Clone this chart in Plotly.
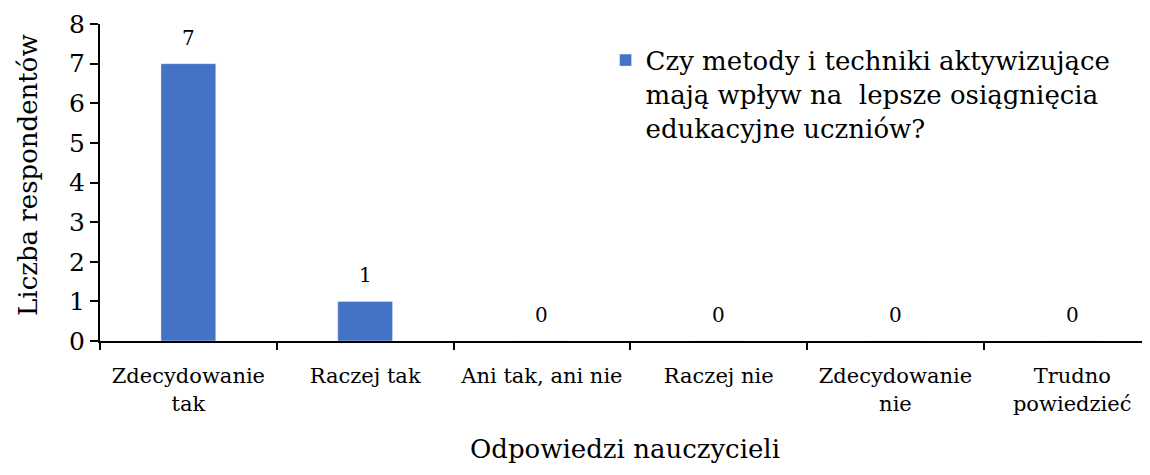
import plotly.graph_objects as go

categories = ["Zdecydowanie<br>tak", "Raczej tak", "Ani tak, ani nie", "Raczej nie",
              "Zdecydowanie<br>nie", "Trudno<br>powiedzieć"]
values = [7, 1, 0, 0, 0, 0]
series_name = "Czy metody i techniki aktywizujące<br>mają wpływ na  lepsze osiągnięcia<br>edukacyjne uczniów?"
y_ticks = [0, 1, 2, 3, 4, 5, 6, 7, 8]
x_title = "Odpowiedzi nauczycieli"
y_title = "Liczba respondentów"

FONT = "DejaVu Serif"
BLUE = "#4472C4"

fig = go.Figure()
fig.add_trace(go.Bar(x=categories, y=values, name=series_name,
                     marker=dict(color=BLUE), width=0.31))

for c, v in zip(categories, values):
    fig.add_annotation(x=c, y=v, text=str(v), showarrow=False, yanchor="bottom",
                       yshift=12, font=dict(family=FONT, size=20, color="black"))

fig.add_annotation(xref="paper", yref="paper", x=0, y=0.524, xshift=-72,
                   text=y_title, textangle=-90, showarrow=False,
                   xanchor="center", yanchor="middle",
                   font=dict(family=FONT, size=26, color="black"))

fig.update_layout(
    width=1142, height=467,
    margin=dict(l=92, r=0, t=16, b=134),
    paper_bgcolor="white", plot_bgcolor="white",
    font=dict(family=FONT, color="black"),
    showlegend=True,
    legend=dict(x=0.4815, y=0.96, xanchor="left", yanchor="top", valign="top",
                font=dict(family=FONT, size=26, color="black"),
                bgcolor="rgba(0,0,0,0)", itemwidth=30),
    xaxis=dict(range=[-0.5, 5.44], showline=True, linecolor="black", linewidth=2,
               ticks="outside", tickson="boundaries", ticklen=7, tickwidth=2, tickcolor="black",
               tickfont=dict(family=FONT, size=21, color="black"), ticklabelstandoff=15,
               title=dict(text=x_title, font=dict(family=FONT, size=26), standoff=25),
               showgrid=False, fixedrange=True, automargin=False),
    yaxis=dict(range=[0, 8], tickvals=y_ticks, showline=True, linecolor="black", linewidth=2,
               ticks="outside", ticklen=8, tickwidth=2, tickcolor="black",
               tickfont=dict(family=FONT, size=25, color="black"),
               showgrid=False, zeroline=False, fixedrange=True, automargin=False),
)

fig.write_html("out.html")
